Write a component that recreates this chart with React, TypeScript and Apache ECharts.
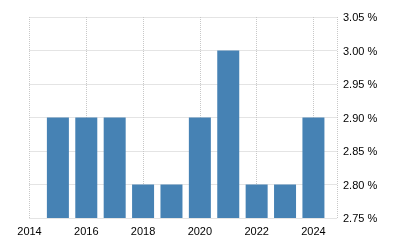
import React, { useEffect, useRef } from "react";
import * as echarts from "echarts";

const years = [2015, 2016, 2017, 2018, 2019, 2020, 2021, 2022, 2023, 2024];
const values = [2.9, 2.9, 2.9, 2.8, 2.8, 2.9, 3.0, 2.8, 2.8, 2.9];

export default function App() {
  const ref = useRef<HTMLDivElement>(null);
  useEffect(() => {
    if (!ref.current) return;
    const chart = echarts.init(ref.current, null, { renderer: "svg" });
    const gridLine = { show: true, lineStyle: { color: "#c8c8c8", type: [1, 1] as any, width: 1 } };
    chart.setOption({
      animation: false,
      grid: { left: 29.5, right: 63, top: 17, bottom: 32, containLabel: false },
      xAxis: {
        type: "value",
        min: 2014,
        max: 2024.83,
        interval: 2,
        axisLine: { show: false },
        axisTick: { show: false },
        splitLine: gridLine,
        axisLabel: {
          showMaxLabel: false,
          color: "#000",
          fontFamily: "Liberation Sans, Arial, sans-serif",
          fontSize: 11,
          margin: 7,
          formatter: (v: number) => String(Math.round(v)),
        },
      },
      yAxis: {
        type: "value",
        position: "right",
        min: 2.75,
        max: 3.05,
        interval: 0.05,
        axisLine: { show: false },
        axisTick: { show: false },
        splitLine: gridLine,
        axisLabel: {
          color: "#000",
          fontFamily: "Liberation Sans, Arial, sans-serif",
          fontSize: 11,
          margin: 6,
          formatter: (v: number) => v.toFixed(2) + " %",
        },
      },
      series: [
        {
          type: "bar",
          data: years.map((y, i) => [y, values[i]]),
          barWidth: 22,
          itemStyle: { color: "#4682b4" },
        },
      ],
    });
    return () => chart.dispose();
  }, []);
  return <div ref={ref} style={{ position: "fixed", left: 0, top: 0, width: 400, height: 250 }} />;
}
